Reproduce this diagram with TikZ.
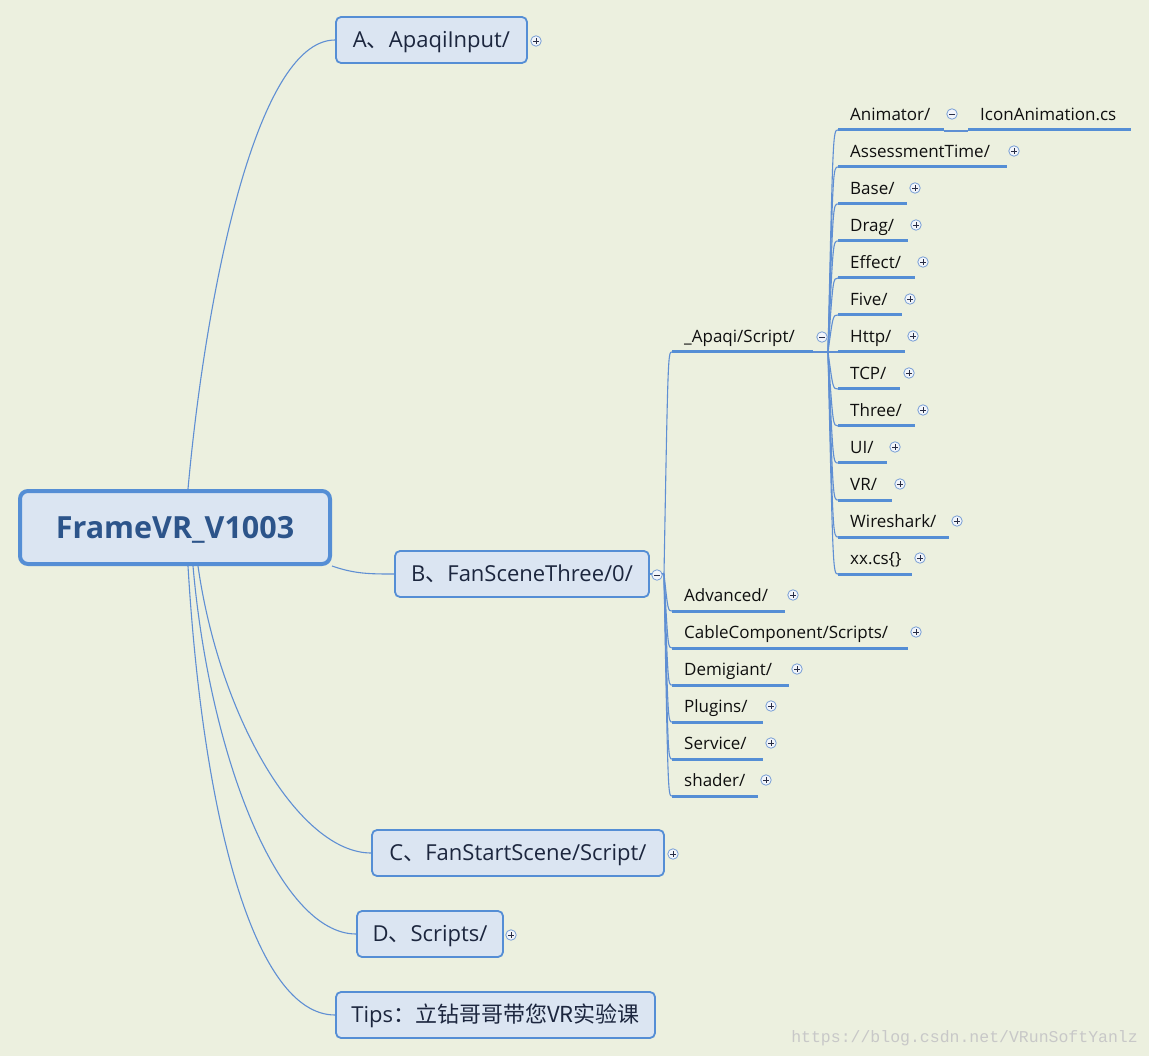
\documentclass[tikz,border=0pt]{standalone}
\usepackage{fontspec}
\setmainfont{Open Sans}
\newfontfamily\cjk{Noto Sans CJK SC}
\newfontfamily\wmfont{Liberation Mono}
\usetikzlibrary{calc}
\definecolor{bgc}{RGB}{236,240,223}
\definecolor{boxfill}{RGB}{219,229,242}
\definecolor{boxline}{RGB}{85,142,213}
\definecolor{linec}{RGB}{95,143,211}
\definecolor{roottext}{RGB}{44,84,138}
\definecolor{toptext}{RGB}{28,38,62}
\definecolor{leaftext}{RGB}{15,15,15}
\definecolor{iconc}{RGB}{120,158,214}
\definecolor{iconfill}{RGB}{242,245,250}
\definecolor{signc}{RGB}{40,45,70}
\definecolor{wmc}{RGB}{200,200,200}
\hyphenpenalty=10000
\exhyphenpenalty=10000
\begin{document}
\begin{tikzpicture}[x=1pt,y=-1pt,
  rootbox/.style={draw=boxline, line width=4pt, fill=boxfill, rounded corners=8pt,
    minimum width=310pt, minimum height=73pt, inner sep=0pt, text=roottext,
    text height=21.5pt, text depth=0pt,
    font=\bfseries\fontsize{30.5}{36}\selectfont},
  topic/.style={draw=boxline, line width=1.8pt, fill=boxfill, rounded corners=5pt,
    minimum height=46pt, inner sep=0pt, text=toptext, text height=15.5pt, text depth=0pt,
    font=\fontsize{22}{26}\selectfont},
  leaf/.style={anchor=south west, inner xsep=12pt, inner ysep=9pt, text depth=0pt,
    text height=13pt, text width=#1, align=left, text=leaftext,
    font=\fontsize{17}{20}\selectfont},
  uline/.style={draw=boxline, line width=3pt},
  conn/.style={draw=linec, line width=1.1pt},
  icon/.style={circle, draw=iconc, line width=0.8pt, fill=iconfill, minimum size=10.5pt, inner sep=0pt},
  plusicon/.style={icon, path picture={
    \draw[signc, line width=0.9pt]
      ([xshift=-2.6pt]path picture bounding box.center) -- ([xshift=2.6pt]path picture bounding box.center)
      ([yshift=-2.6pt]path picture bounding box.center) -- ([yshift=2.6pt]path picture bounding box.center);}},
  minusicon/.style={icon, path picture={
    \draw[signc, line width=0.9pt]
      ([xshift=-2.6pt]path picture bounding box.center) -- ([xshift=2.6pt]path picture bounding box.center);}}
]
\useasboundingbox (0,0) rectangle (1149,1056);
\fill[bgc] (0,0) rectangle (1149,1056);

% ---- root and main topics ----
\node[rootbox] (root) at (175,527.5) {FrameVR\_V1003};
\node[topic, minimum width=191pt] (A) at (431.5,40) {A{\cjk 、}ApaqiInput/};
\node[topic, minimum width=254pt] (B) at (522,574) {B{\cjk 、}FanSceneThree/0/};
\node[topic, minimum width=292pt] (C) at (518,853) {C{\cjk 、}FanStartScene/Script/};
\node[topic, minimum width=146pt] (D) at (430,934) {D{\cjk 、}Scripts/};
\node[topic, minimum width=319pt] (T) at (495.5,1015) {Tips{\cjk ：立钻哥哥带您VR实验课}};

\draw[conn] ([xshift=13pt]root.north) .. controls (205,300) and (255,40) .. (A.west);
\draw[conn] (root.south east) .. controls (355,574) and (370,574) .. (B.west);
\draw[conn] ([xshift=23pt]root.south) .. controls (220,720) and (300,853) .. (C.west);
\draw[conn] ([xshift=18pt]root.south) .. controls (210,760) and (280,934) .. (D.west);
\draw[conn] ([xshift=13pt]root.south) .. controls (203,820) and (255,1015) .. (T.west);

% ---- level 2 (under B) ----
\node[leaf=117pt] (apaqi) at (672,352) {\_Apaqi/Script/};
\node[leaf=89pt]  (adv)   at (672,611) {Advanced/};
\node[leaf=212pt] (cable) at (672,648) {CableComponent/Scripts/};
\node[leaf=93pt]  (demi)  at (672,685) {Demigiant/};
\node[leaf=67pt]  (plug)  at (672,722) {Plugins/};
\node[leaf=67pt]  (serv)  at (672,759) {Service/};
\node[leaf=62pt]  (shad)  at (672,796) {shader/};

\coordinate (o2) at (664,574);
\coordinate (o2c) at (668,574);
\draw[conn] (B.east) -- (o2);
\foreach \n in {apaqi,adv,cable,demi,plug,serv,shad}{
  \draw[conn] (o2) .. controls (o2c |- \n.south west) and (o2c |- \n.south west) .. (\n.south west);
  \draw[uline] (\n.south west) -- (\n.south east);
}

% ---- level 3 (under _Apaqi/Script/) ----
\node[leaf=82pt]  (anim)  at (838,130) {Animator/};
\node[leaf=145pt] (asse)  at (838,167) {AssessmentTime/};
\node[leaf=45pt]  (base)  at (838,204) {Base/};
\node[leaf=46pt]  (drag)  at (838,241) {Drag/};
\node[leaf=53pt]  (eff)   at (838,278) {Effect/};
\node[leaf=40pt]  (five)  at (838,315) {Five/};
\node[leaf=43pt]  (http)  at (838,352) {Http/};
\node[leaf=38pt]  (tcp)   at (838,389) {TCP/};
\node[leaf=53pt]  (three) at (838,426) {Three/};
\node[leaf=25pt]  (ui)    at (838,463) {UI/};
\node[leaf=30pt]  (vr)    at (838,500) {VR/};
\node[leaf=87pt]  (wire)  at (838,537) {Wireshark/};
\node[leaf=50pt]  (xx)    at (838,574) {xx.cs\{\}};
\node[leaf=139pt] (iconan) at (968,130) {IconAnimation.cs};

\coordinate (o3) at (828,352);
\coordinate (o3c) at (833,352);
\draw[conn] (apaqi.south east) -- (o3);
\foreach \n in {anim,asse,base,drag,eff,five,http,tcp,three,ui,vr,wire,xx}{
  \draw[conn] (o3) .. controls (o3c |- \n.south west) and (o3c |- \n.south west) .. (\n.south west);
  \draw[uline] (\n.south west) -- (\n.south east);
}
\draw[conn] ([yshift=-1pt]anim.south east) -- ([yshift=-1pt]iconan.south west);
\draw[uline] (iconan.south west) -- (iconan.south east);

% ---- collapse / expand icons ----
\node[plusicon]  (iA) at (536,41) {};
\node[minusicon] (iB) at (657,575) {};
\node[plusicon]  (iC) at (673,854) {};
\node[plusicon]  (iD) at (511,935) {};
\node[minusicon] (iapaqi) at (822,337) {};
\node[plusicon]  (iadv)   at (793,595) {};
\node[plusicon]  (icable) at (916,632) {};
\node[plusicon]  (idemi)  at (797,669) {};
\node[plusicon]  (iplug)  at (771,706) {};
\node[plusicon]  (iserv)  at (771,743) {};
\node[plusicon]  (ishad)  at (766,780) {};
\node[minusicon] (ianim)  at (952,114) {};
\node[plusicon]  (iasse)  at (1014,151) {};
\node[plusicon]  (ibase)  at (915,188) {};
\node[plusicon]  (idrag)  at (916,225) {};
\node[plusicon]  (ieff)   at (923,262) {};
\node[plusicon]  (ifive)  at (910,299) {};
\node[plusicon]  (ihttp)  at (913,336) {};
\node[plusicon]  (itcp)   at (909,373) {};
\node[plusicon]  (ithree) at (923,410) {};
\node[plusicon]  (iui)    at (895,447) {};
\node[plusicon]  (ivr)    at (900,484) {};
\node[plusicon]  (iwire)  at (957,521) {};
\node[plusicon]  (ixx)    at (920,558) {};

% ---- watermark ----
\node[anchor=base east, inner sep=0pt, text=wmc, font=\wmfont\fontsize{16.5}{18}\selectfont] (wm) at (1138,1042) {https://blog.csdn.net/VRunSoftYanlz};
\end{tikzpicture}
\end{document}
